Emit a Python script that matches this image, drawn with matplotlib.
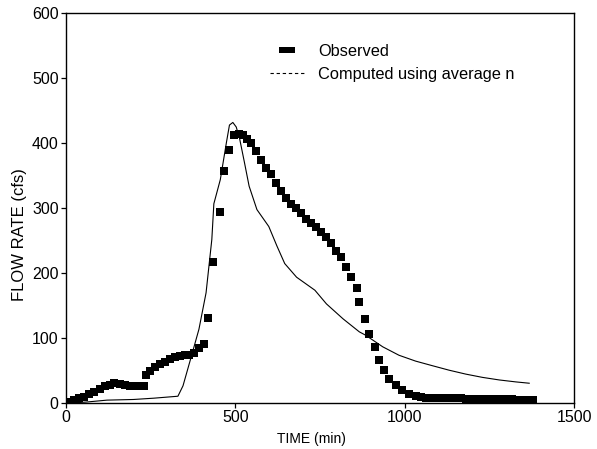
import matplotlib
matplotlib.use("Agg")
import matplotlib.pyplot as plt
from matplotlib.lines import Line2D

# Observed hydrograph (time in minutes, flow in cfs)
obs_time = [0, 13, 26, 40, 55, 70, 85, 100, 115, 130, 144, 159, 174, 189, 203,
            218, 230, 236, 249, 262, 277, 292, 307, 322, 337, 351, 364, 378,
            392, 407, 421, 435, 455, 468, 483, 496, 510, 523, 536, 548, 562,
            576, 591, 605, 620, 634, 649, 664, 679, 694, 709, 724, 739, 754,
            769, 783, 798, 813, 828, 842, 858, 866, 882, 895, 911, 924, 939,
            954, 974, 993, 1012, 1032, 1047, 1062, 1077, 1092, 1107, 1122,
            1137, 1152, 1167, 1182, 1197, 1212, 1227, 1242, 1257, 1272, 1287,
            1302, 1317, 1332, 1347, 1362, 1377]
obs_flow = [0, 2, 5, 8, 10, 14, 18, 22, 26, 29, 31, 30, 29, 27, 26,
            26, 27, 44, 50, 56, 60, 64, 68, 72, 73, 74, 75, 77,
            85, 91, 132, 218, 295, 357, 390, 413, 415, 412, 407, 400, 388,
            375, 362, 352, 339, 326, 316, 307, 300, 292, 284, 277, 271, 264,
            256, 246, 235, 225, 210, 194, 177, 156, 130, 107, 87, 66, 51,
            38, 28, 20, 15, 11, 10, 9, 9, 9, 8, 8,
            8, 8, 8, 7, 7, 7, 7, 7, 6, 6, 6,
            6, 6, 5, 5, 5, 5]

# Computed hydrograph using average Manning n
cmp_time = [0, 60, 122, 200, 260, 331, 346, 371, 393, 414, 431, 437, 456, 474,
            483, 493, 503, 513, 527, 541, 564, 599, 623, 646, 681, 735, 769,
            818, 866, 884, 935, 983, 1032, 1081, 1131, 1180, 1229, 1279, 1328,
            1367]
cmp_flow = [0, 2, 5, 6, 8, 11, 27, 73, 114, 170, 252, 307, 344, 401,
            428, 432, 425, 407, 371, 334, 298, 272, 242, 215, 194, 174, 153,
            130, 110, 105, 87, 74, 65, 58, 51, 45, 40, 36, 33,
            31]

x_ticks = [0, 500, 1000, 1500]
y_ticks = [0, 100, 200, 300, 400, 500, 600]

plt.rcParams["font.family"] = ["Liberation Sans", "DejaVu Sans"]

fig = plt.figure(figsize=(5.97, 4.49), dpi=100)
ax = fig.add_axes([0.110, 0.1016, 0.852, 0.869])

ax.plot(obs_time, obs_flow, linestyle="none", marker="s", markersize=5.5,
        markeredgewidth=0, color="black")
ax.plot(cmp_time, cmp_flow, color="black", linewidth=0.8)

ax.set_xlim(0, 1500)
ax.set_ylim(0, 600)
ax.set_xticks(x_ticks)
ax.set_yticks(y_ticks)
ax.tick_params(direction="out", length=3.5, width=0.9, labelsize=11.5, pad=1.5)

for s in ax.spines.values():
    s.set_linewidth(1.0)

ax.set_xlabel("TIME (min)", fontsize=10)
ax.set_ylabel("FLOW RATE (cfs)", fontsize=12)
ax.xaxis.set_label_coords(0.484, -0.074)
ax.yaxis.set_label_coords(-0.076, 0.432)

# Legend: wide filled block for observed, dashed line for computed
block = [(-1.2, -0.5), (1.2, -0.5), (1.2, 0.5), (-1.2, 0.5), (-1.2, -0.5)]
h_obs = Line2D([], [], linestyle="none", marker=block, markersize=12,
               markeredgewidth=0, color="black")
h_cmp = Line2D([], [], linestyle=(0, (3, 2.5)), linewidth=0.8, color="black")
leg = ax.legend([h_obs, h_cmp], ["Observed", "Computed using average n"],
                loc="upper left", bbox_to_anchor=(270 / 597, 1 - 44 / 449),
                bbox_transform=fig.transFigure, frameon=False, fontsize=11.8,
                handlelength=2.1, handletextpad=0.85, labelspacing=0.5,
                borderpad=0, borderaxespad=0, numpoints=1)

fig.savefig("out.png", dpi=100)
